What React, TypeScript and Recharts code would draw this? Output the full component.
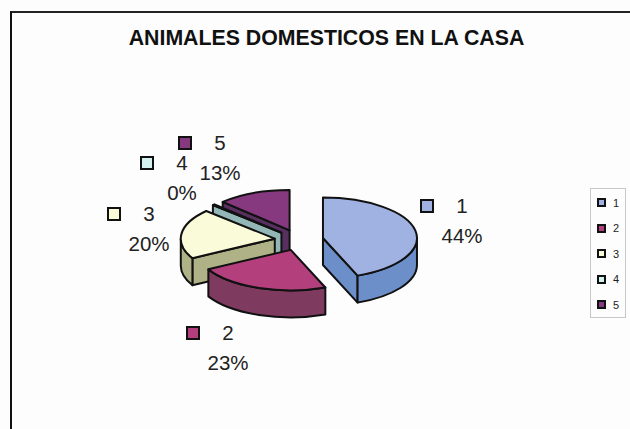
import React from 'react';
import { PieChart, Pie, Legend } from 'recharts';

const categories = ['1', '2', '3', '4', '5'];
const shares = [44, 23, 20, 0.4, 12.6];

const topColors = ['#9fb2e2', '#b3407c', '#fafbd9', '#d2f1ef', '#86397f'];
const sideColors = ['#6c8fc9', '#7f3a5f', '#aeb286', '#93b6b6', '#57305f'];

// name + percent label anchors, one per category
const labelAnchors = [
  { x: 462, y: 205 },
  { x: 228, y: 332 },
  { x: 149, y: 213 },
  { x: 182, y: 162 },
  { x: 220, y: 142 },
];
const swatchGap = 35;

const WIDTH = 630;
const HEIGHT = 429;
const TILT = 0.43;
const DEPTH = 27;
const EXPLODE = 24.4;
const RADIUS = 94;

// drawn back to front, so slice 5 comes first and the angles run the other way
const pieData = categories
  .map((name, i) => ({ name, value: shares[i], fill: topColors[i], side: sideColors[i], idx: i }))
  .reverse();

const rad = (deg: number) => (deg * Math.PI) / 180;

// Slice with thickness, on a tilted ellipse. Angles are clockwise from 12 o'clock.
const Slice3D = (props: any) => {
  const { cx, cy, startAngle, endAngle, midAngle, outerRadius, fill, side } = props;
  const a = 90 - Math.max(startAngle, endAngle);
  const b = 90 - Math.min(startAngle, endAngle);
  const rx = outerRadius;
  const ry = outerRadius * TILT;
  const mid = rad(90 - midAngle);
  const ox = cx + EXPLODE * Math.sin(mid);
  const oy = cy - EXPLODE * TILT * Math.cos(mid);
  const px = (deg: number) => ox + rx * Math.sin(rad(deg));
  const py = (deg: number) => oy - ry * Math.cos(rad(deg));
  const arc = (from: number, to: number, dy = 0, sweep = 1) =>
    `A${rx} ${ry} 0 ${Math.abs(to - from) > 180 ? 1 : 0} ${sweep} ${px(to)} ${py(to) + dy}`;
  const norm = (d: number) => ((d % 360) + 360) % 360;

  const stroke = { stroke: '#111', strokeWidth: 2, strokeLinejoin: 'round' as const };
  const faces: React.ReactNode[] = [];
  const wall = (deg: number, key: string) => (
    <path
      key={key}
      d={`M${ox} ${oy}L${px(deg)} ${py(deg)}l0 ${DEPTH}L${ox} ${oy + DEPTH}Z`}
      fill={side}
      {...stroke}
    />
  );
  // cut faces only show when they turn towards the viewer
  if (norm(a) > 180) faces.push(wall(a, 'start'));
  if (norm(b) > 0 && norm(b) < 180) faces.push(wall(b, 'end'));

  // outer rim: the part of the arc on the near half of the ellipse
  const shift = Math.floor(a / 360) * 360;
  const from = Math.max(a - shift, 90);
  const to = Math.min(b - shift, 270);
  if (to > from) {
    faces.push(
      <path
        key="rim"
        d={`M${px(from)} ${py(from)}${arc(from, to)}l0 ${DEPTH}${arc(to, from, DEPTH, 0)}Z`}
        fill={side}
        {...stroke}
      />,
    );
  }

  return (
    <g>
      {faces}
      <path d={`M${ox} ${oy}L${px(a)} ${py(a)}${arc(a, b)}Z`} fill={fill} {...stroke} />
    </g>
  );
};

const Swatch = ({ x, y, size, color, sw }: any) => (
  <rect x={x} y={y} width={size} height={size} fill={color} stroke="#111" strokeWidth={sw} />
);

const renderLabel = (props: any) => {
  const { name, percent, idx } = props.payload ?? props;
  const i = idx ?? categories.indexOf(name);
  const at = labelAnchors[i];
  const pct = props.percent ?? percent;
  return (
    <g key={name} fontFamily="'Liberation Sans', Arial, sans-serif" fontSize={20.5} fill="#222">
      <Swatch x={at.x - swatchGap - 6} y={at.y - 5} size={12} color={topColors[i]} sw={2} />
      <text x={at.x} y={at.y + 8} textAnchor="middle">{name}</text>
      <text x={at.x} y={at.y + 38} textAnchor="middle">{`${Math.round(pct * 100)}%`}</text>
    </g>
  );
};

const LegendBox = ({ payload }: any) => {
  const items = payload ?? [];
  return (
    <div
      style={{
        width: 36,
        height: 130,
        border: '1px solid #c8c8c8',
        boxSizing: 'border-box',
        padding: '1px 0 0 6px',
        fontFamily: "'Liberation Sans', Arial, sans-serif",
        fontSize: 11,
        color: '#222',
      }}
    >
      {items.map((item: any, i: number) => (
        <div key={item.value} style={{ height: 25.5, display: 'flex', alignItems: 'center' }}>
          <span
            style={{
              width: 5,
              height: 5,
              marginRight: 7,
              border: '2px solid #111',
              background: topColors[i],
            }}
          />
          {item.value}
        </div>
      ))}
    </div>
  );
};

export default function App() {
  return (
    <div style={{ position: 'absolute', left: 0, top: 0, width: WIDTH, height: HEIGHT, background: '#fdfdfd' }}>
      <div
        style={{
          position: 'absolute',
          left: 10,
          top: 11,
          width: WIDTH - 10,
          height: HEIGHT - 11,
          boxSizing: 'border-box',
          borderLeft: '2px solid #111',
          borderTop: '2px solid #222',
        }}
      />
      <PieChart width={WIDTH} height={HEIGHT} margin={{ top: 0, right: 0, bottom: 0, left: 0 }}>
        <text
          x={326.5}
          y={45}
          textAnchor="middle"
          fontFamily="'Liberation Sans', Arial, sans-serif"
          fontWeight="bold"
          fontSize={21.3}
          fill="#111"
        >
          ANIMALES DOMESTICOS EN LA CASA
        </text>
        <Pie
          data={pieData}
          dataKey="value"
          nameKey="name"
          cx={299}
          cy={240}
          innerRadius={0}
          outerRadius={RADIUS}
          startAngle={90}
          endAngle={450}
          shape={Slice3D}
          label={renderLabel}
          labelLine={false}
          stroke="none"
          isAnimationActive={false}
        />
        <Legend
          layout="vertical"
          content={<LegendBox />}
          wrapperStyle={{ position: 'absolute', left: 590, top: 188, width: 36, margin: 0 }}
        />
      </PieChart>
    </div>
  );
}
